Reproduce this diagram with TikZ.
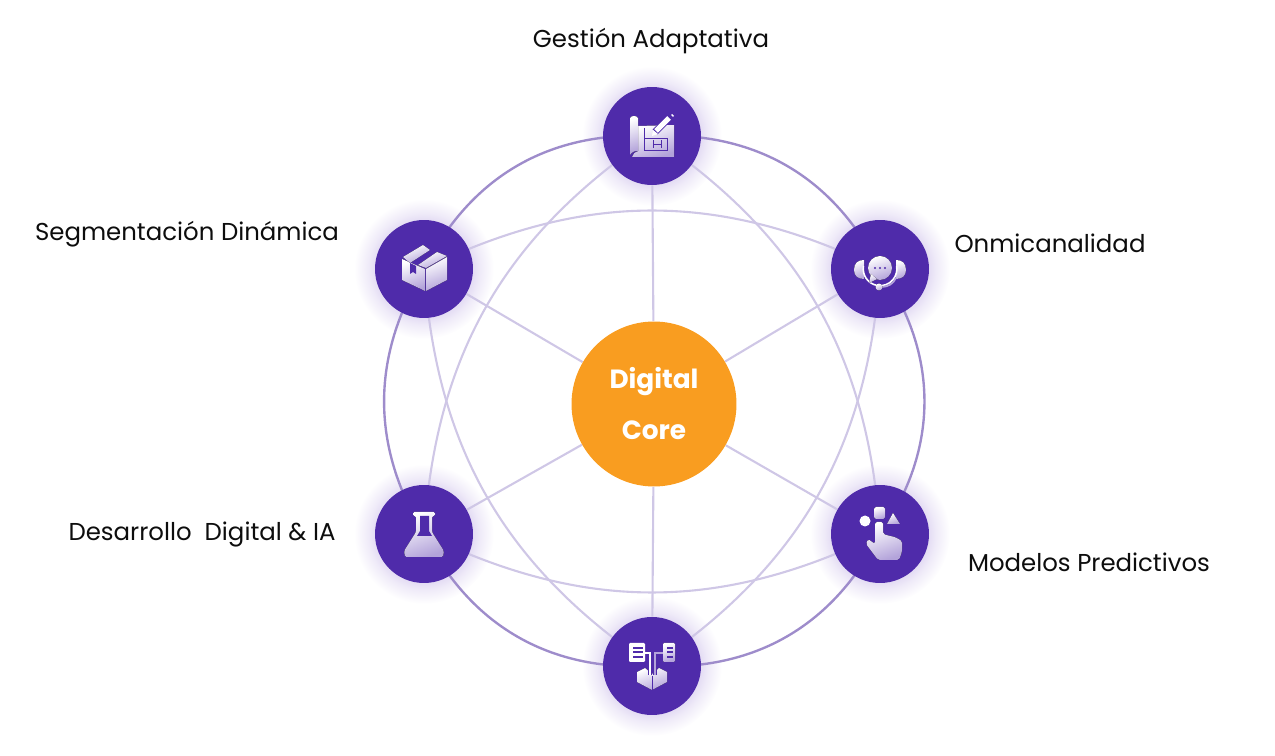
\documentclass[tikz,border=0pt]{standalone}
\usepackage{fontspec}
\setmainfont{Poppins}
\usetikzlibrary{backgrounds}
\definecolor{cpurple}{HTML}{4F2BAA}
\definecolor{corange}{HTML}{F99D20}
\definecolor{cring}{HTML}{9E8CCB}
\definecolor{cweb}{HTML}{CFC7E6}
\definecolor{cglow}{HTML}{E2DAF3}
\definecolor{cicon}{HTML}{B3A3DA}
\pgfdeclareradialshading{halo}{\pgfpoint{0bp}{0bp}}{color(0bp)=(cglow); color(17bp)=(cglow); color(20bp)=(cglow!55); color(25bp)=(white)}
\tikzset{
  hub/.style={circle, fill=cpurple, minimum size=1.96cm, inner sep=0pt},
  hubcore/.style={circle, fill=corange, minimum size=3.3cm, inner sep=0pt, align=center, text=white, font=\fontsize{15}{29}\selectfont\bfseries},
  label/.style={font=\fontsize{13.9}{16}\selectfont, text=black!95},
  glow/.style={shading=halo},
  ring/.style={draw=cring, line width=1.35pt},
  web/.style={draw=cweb, line width=1.2pt},
  icon/.style={left color=white, right color=cicon, shading angle=20, draw=none},
  cut/.style={fill=cpurple, draw=none},
}

\begin{document}
\begin{tikzpicture}[x=0.02cm, y=-0.02cm]
  \useasboundingbox (0,0) rectangle (1275,756);
  \node[hubcore] (core) at (654,404) {Digital\\Core};
  \node[hub] (ges) at (652,136) {};
  \node[hub] (onm) at (880,269) {};
  \node[hub] (mod) at (880,534) {};
  \node[hub] (dat) at (652,666) {};
  \node[hub] (des) at (424,534) {};
  \node[hub] (seg) at (424,269) {};
  \node[label] (lges) at (651,41) {Gestión Adaptativa};
  \node[label] (lonm) at (1050,243) {Onmicanalidad};
  \node[label] (lmod) at (1089,562) {Modelos Predictivos};
  \node[label] (ldes) at (202,535) {Desarrollo\ \ Digital \& IA};
  \node[label] (lseg) at (187,234) {Segmentación Dinámica};

  \begin{scope}[on background layer]
    \shade[glow] (ges.center) circle (70);
    \shade[glow] (onm.center) circle (70);
    \shade[glow] (mod.center) circle (70);
    \shade[glow] (dat.center) circle (70);
    \shade[glow] (des.center) circle (70);
    \shade[glow] (seg.center) circle (70);
    \draw[web] (core) -- (ges);
    \draw[web] (core) -- (onm);
    \draw[web] (core) -- (mod);
    \draw[web] (core) -- (dat);
    \draw[web] (core) -- (des);
    \draw[web] (core) -- (seg);
    \draw[web] (ges.center) to[bend left=26] (mod.center);
    \draw[web] (onm.center) to[bend left=26] (dat.center);
    \draw[web] (mod.center) to[bend left=26] (des.center);
    \draw[web] (dat.center) to[bend left=26] (seg.center);
    \draw[web] (des.center) to[bend left=26] (ges.center);
    \draw[web] (seg.center) to[bend left=26] (onm.center);
    \draw[ring] (ges.center) to[bend left=33] (onm.center);
    \draw[ring] (onm.center) to[bend left=35] (mod.center);
    \draw[ring] (mod.center) to[bend left=33] (dat.center);
    \draw[ring] (dat.center) to[bend left=33] (des.center);
    \draw[ring] (des.center) to[bend left=31] (seg.center);
    \draw[ring] (seg.center) to[bend left=33] (ges.center);
  \end{scope}

  \begin{scope}[shift={(ges.center)}]
    \fill[icon] (-14,-10) -- (22,-11) -- (22,21) -- (-20,21) to[bend left=30] (-14,15) -- cycle;
    \fill[icon] (-22,17) -- (-22,-18) to[bend left=60] (-14,-18) -- (-14,15) to[bend right=30] (-22,19) -- cycle;
    \draw[cpurple, line width=0.35pt] (-8,-8) -- (-8,15) (-8,2) -- (15,2) -- (15,14) -- (-8,14) (1,8) -- (9,8) (1,4) -- (1,12) (9,4) -- (9,12);
    \draw[cpurple, line width=4pt] (3,-4) -- (18,-19);
    \draw[white, line width=3pt] (4,-5) -- (17,-18);
    \fill[white] (0,0) -- (1,-6) -- (6,-2) -- cycle;
    \draw[white, line width=1.6pt] (20,-20) -- (21,-21);
  \end{scope}

  \begin{scope}[shift={(onm.center)}]
    \fill[icon] (-26,1) .. controls (-26,-6) and (-22,-9) .. (-16,-9) -- (-16,10) .. controls (-22,10) and (-26,7) .. (-26,1) -- cycle;
    \fill[icon] (26,1) .. controls (26,-6) and (22,-9) .. (16,-9) -- (16,10) .. controls (22,10) and (26,7) .. (26,1) -- cycle;
    \draw[white, line width=0.9pt] (-16.5,-3) arc[start angle=190, end angle=-10, radius=16.8];
    \fill[cut] (0,-1) circle (15.5);
    \fill[icon] (12,-1) arc[start angle=0, end angle=360, radius=12] -- cycle;
    \fill[icon] (-9,5) -- (-11,14) -- (-3,10) -- cycle;
    \draw[cicon, line width=1pt] (16,9) to[bend left=30] (2,18);
    \fill[icon] (-1,18) circle (3.5);
    \fill[cut] (-5,-1) circle (1.1);
    \fill[cut] (0,-1) circle (1.1);
    \fill[cut] (5,-1) circle (1.1);
  \end{scope}

  \begin{scope}[shift={(mod.center)}]
    \fill[white] (-15,-13) circle (5.5);
    \fill[icon, rounded corners=1pt] (-6,-27) rectangle (5,-15);
    \fill[icon] (13,-21) -- (20,-10) -- (7,-10) -- cycle;
    \fill[icon, rounded corners=1pt] (-5,-12) -- (3,-12) -- (3,0) -- (10,2) -- (15,3) -- (22,7) -- (22,18) -- (19,26) -- (-2,26) -- (-14,10) -- (-12,5) -- (-5,10) -- cycle;
  \end{scope}

  \begin{scope}[shift={(dat.center)}]
    \fill[white, rounded corners=0.6pt] (-23,-23) rectangle (-7,-4);
    \fill[icon, rounded corners=0.6pt] (11,-23) rectangle (23,-4);
    \fill[cut] (-19,-19) rectangle (-9,-17);
    \fill[cut] (-19,-15) rectangle (-9,-13);
    \fill[cut] (-19,-10) rectangle (-9,-8);
    \fill[cut] (15,-19) rectangle (21,-17);
    \fill[cut] (15,-15) rectangle (21,-13);
    \fill[cut] (15,-10) rectangle (21,-8);
    \fill[icon] (-15,6) -- (-7,2) -- (0,8) -- (7,2) -- (15,6) -- (15,16) -- (0,24) -- (-15,16) -- cycle;
    \draw[cut, draw=cpurple, line width=2.6pt] (-2,-13) -- (-2,9) (3,-13) -- (3,9);
    \draw[white, line width=1.4pt] (-7,-13) -- (-2,-13) -- (-2,9);
    \draw[cicon, line width=1.4pt] (11,-13) -- (3,-13) -- (3,9);
    \draw[cpurple, line width=0.4pt] (0,10) -- (0,24);
  \end{scope}

  \begin{scope}[shift={(des.center)}]
    \fill[icon, rounded corners=0.8pt] (-11,-22) -- (11,-22) -- (11,-18) -- (8,-18) -- (8,-2) -- (20,17) -- (19,23) -- (-19,23) -- (-20,17) -- (-8,-2) -- (-8,-18) -- (-11,-18) -- cycle;
    \fill[cut] (-4,-18) -- (5,-18) -- (5,-3) -- (8,2) -- (-7,2) -- (-4,-3) -- cycle;
  \end{scope}

  \begin{scope}[shift={(seg.center)}]
    \fill[icon] (-22,-10) -- (1,0) -- (1,22) -- (-22,11) -- cycle;
    \fill[icon] (2,0) -- (23,-12) -- (23,11) -- (2,22) -- cycle;
    \fill[icon] (-21,-12) -- (-1,-24) -- (6,-19) -- (-14,-6) -- cycle;
    \fill[icon] (-6,-4) -- (13,-17) -- (23,-13) -- (2,-1) -- cycle;
    \fill[cut] (-14,-6) -- (-8,-3) -- (-8,5) -- (-11,3) -- (-14,5) -- cycle;
  \end{scope}
\end{tikzpicture}
\end{document}
